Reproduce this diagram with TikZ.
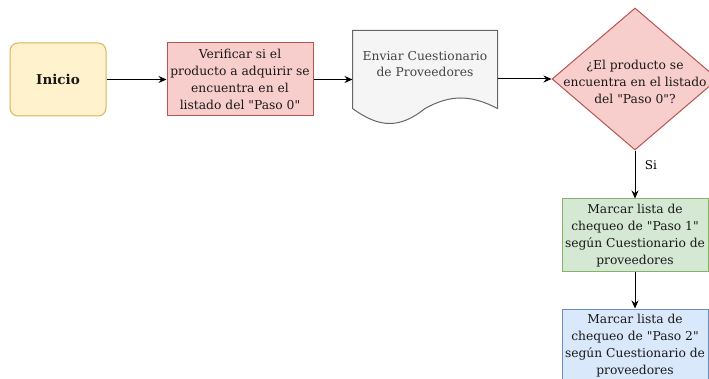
\documentclass[tikz,border=0pt]{standalone}
\usepackage{fontspec}
\setmainfont{DejaVu Serif}[Ligatures=TeXOff]
\usetikzlibrary{positioning,shapes.geometric,arrows.meta}

\definecolor{amarilloF}{HTML}{FFF2CC}
\definecolor{amarilloB}{HTML}{D6B656}
\definecolor{rojoF}{HTML}{F8CECC}
\definecolor{rojoB}{HTML}{B85450}
\definecolor{grisF}{HTML}{F5F5F5}
\definecolor{grisB}{HTML}{666666}
\definecolor{grisT}{HTML}{444444}
\definecolor{verdeF}{HTML}{D5E8D4}
\definecolor{verdeB}{HTML}{82B366}
\definecolor{azulF}{HTML}{DAE8FC}
\definecolor{azulB}{HTML}{6C8EBF}

\begin{document}
\begin{tikzpicture}[x=1pt, y=1pt, line width=1pt, >={Stealth[length=8pt,width=7pt]},
  main/.style = {draw, align=center, inner sep=1pt, text=black!90,
    font=\fontsize{12.3}{16.8}\selectfont},
  texto/.style = {main, draw=none},
  inicio/.style = {main, fill=amarilloF, draw=amarilloB, rounded corners=8pt,
    minimum width=96pt, minimum height=73pt, font=\fontsize{13.5}{16}\bfseries},
  proceso/.style = {main, minimum width=146pt, minimum height=73pt},
  decision/.style = {main, diamond, fill=rojoF, draw=rojoB,
    minimum width=166pt, minimum height=142pt, inner sep=0pt}]
\clip (0,0) rectangle (709,-379);

\node[inicio] (inicio) at (58,-79.5) {Inicio};
\node[proceso, fill=rojoF, draw=rojoB] (verificar) [right=60pt of inicio]
  {Verificar si el\\producto a adquirir se\\encuentra en el\\listado del "Paso 0"};
% documento con borde ondulado
\node[texto, minimum width=144pt, minimum height=66pt] (enviar) at (425,-64) {};
\filldraw[fill=grisF, draw=grisB] (enviar.north west) -- (enviar.north east)
  -- ([yshift=-78pt]enviar.north east)
  .. controls ([xshift=-27pt,yshift=-64pt]enviar.north east)
  and ([xshift=-47pt,yshift=-64pt]enviar.north east) .. ([yshift=-78pt]enviar.north)
  .. controls ([xshift=-25pt,yshift=-98pt]enviar.north)
  and ([xshift=-45pt,yshift=-98pt]enviar.north) .. ([yshift=-78pt]enviar.north west)
  -- cycle;
\node[texto, text=grisT] (enviarT) at (enviar) {Enviar Cuestionario\\de Proveedores};
% rombo de decision, el texto va aparte
\node[decision] (pregunta) at (635,-79) {};
\node[texto] (preguntaT) at ([yshift=-3pt]pregunta)
  {¿El producto se\\encuentra en el listado\\del "Paso 0"?};
\node[proceso, fill=verdeF, draw=verdeB] (paso1) [below=48pt of pregunta]
  {Marcar lista de\\chequeo de "Paso 1"\\según Cuestionario de\\proveedores};
\node[proceso, fill=azulF, draw=azulB] (paso2) [below=36pt of paso1]
  {Marcar lista de\\chequeo de "Paso 2"\\según Cuestionario de\\proveedores};

\draw[->] (inicio) -- (verificar);
\draw[->] (verificar) -- (verificar -| enviar.west);
\draw[->] (pregunta.west -| enviar.east) -- (pregunta);
\draw[->] (pregunta) -- node[right=6pt, pos=0.3, font=\fontsize{12}{14}\selectfont] {Si} (paso1);
\draw[->] (paso1) -- (paso2);
\end{tikzpicture}
\end{document}
